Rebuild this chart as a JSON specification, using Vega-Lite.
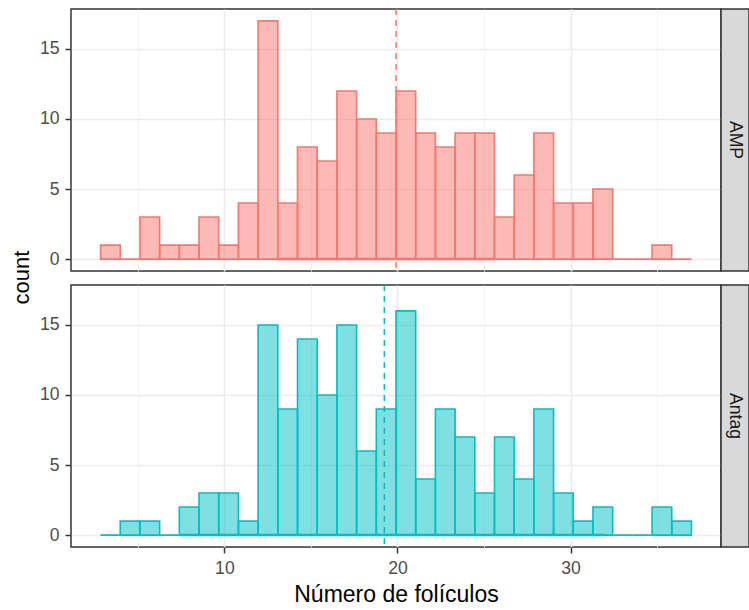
{
  "$schema": "https://vega.github.io/schema/vega-lite/v6.json",
  "background": "white",
  "padding": {"left": 9, "top": 7, "right": 0, "bottom": 0},
  "config": {
    "font": "Liberation Sans",
    "view": {"stroke": "#333333", "strokeWidth": 1.5},
    "axis": {
      "labelFont": "Liberation Sans",
      "labelFontSize": 17.6,
      "labelColor": "#4D4D4D",
      "tickColor": "#333333",
      "tickSize": 6,
      "tickWidth": 1.5,
      "domain": false,
      "titleFont": "Liberation Sans",
      "titleFontSize": 22,
      "titleFontWeight": "normal",
      "titleColor": "#000000"
    }
  },
  "datasets": {
    "bins": [
      {"grupo": "AMP", "x0": 2.845, "x1": 3.983, "n": 1},
      {"grupo": "AMP", "x0": 3.983, "x1": 5.121, "n": 0},
      {"grupo": "AMP", "x0": 5.121, "x1": 6.259, "n": 3},
      {"grupo": "AMP", "x0": 6.259, "x1": 7.397, "n": 1},
      {"grupo": "AMP", "x0": 7.397, "x1": 8.534, "n": 1},
      {"grupo": "AMP", "x0": 8.534, "x1": 9.672, "n": 3},
      {"grupo": "AMP", "x0": 9.672, "x1": 10.810, "n": 1},
      {"grupo": "AMP", "x0": 10.810, "x1": 11.948, "n": 4},
      {"grupo": "AMP", "x0": 11.948, "x1": 13.086, "n": 17},
      {"grupo": "AMP", "x0": 13.086, "x1": 14.224, "n": 4},
      {"grupo": "AMP", "x0": 14.224, "x1": 15.362, "n": 8},
      {"grupo": "AMP", "x0": 15.362, "x1": 16.500, "n": 7},
      {"grupo": "AMP", "x0": 16.500, "x1": 17.638, "n": 12},
      {"grupo": "AMP", "x0": 17.638, "x1": 18.776, "n": 10},
      {"grupo": "AMP", "x0": 18.776, "x1": 19.914, "n": 9},
      {"grupo": "AMP", "x0": 19.914, "x1": 21.052, "n": 12},
      {"grupo": "AMP", "x0": 21.052, "x1": 22.190, "n": 9},
      {"grupo": "AMP", "x0": 22.190, "x1": 23.328, "n": 8},
      {"grupo": "AMP", "x0": 23.328, "x1": 24.466, "n": 9},
      {"grupo": "AMP", "x0": 24.466, "x1": 25.603, "n": 9},
      {"grupo": "AMP", "x0": 25.603, "x1": 26.741, "n": 3},
      {"grupo": "AMP", "x0": 26.741, "x1": 27.879, "n": 6},
      {"grupo": "AMP", "x0": 27.879, "x1": 29.017, "n": 9},
      {"grupo": "AMP", "x0": 29.017, "x1": 30.155, "n": 4},
      {"grupo": "AMP", "x0": 30.155, "x1": 31.293, "n": 4},
      {"grupo": "AMP", "x0": 31.293, "x1": 32.431, "n": 5},
      {"grupo": "AMP", "x0": 32.431, "x1": 33.569, "n": 0},
      {"grupo": "AMP", "x0": 33.569, "x1": 34.707, "n": 0},
      {"grupo": "AMP", "x0": 34.707, "x1": 35.845, "n": 1},
      {"grupo": "AMP", "x0": 35.845, "x1": 36.983, "n": 0},
      {"grupo": "Antag", "x0": 2.845, "x1": 3.983, "n": 0},
      {"grupo": "Antag", "x0": 3.983, "x1": 5.121, "n": 1},
      {"grupo": "Antag", "x0": 5.121, "x1": 6.259, "n": 1},
      {"grupo": "Antag", "x0": 6.259, "x1": 7.397, "n": 0},
      {"grupo": "Antag", "x0": 7.397, "x1": 8.534, "n": 2},
      {"grupo": "Antag", "x0": 8.534, "x1": 9.672, "n": 3},
      {"grupo": "Antag", "x0": 9.672, "x1": 10.810, "n": 3},
      {"grupo": "Antag", "x0": 10.810, "x1": 11.948, "n": 1},
      {"grupo": "Antag", "x0": 11.948, "x1": 13.086, "n": 15},
      {"grupo": "Antag", "x0": 13.086, "x1": 14.224, "n": 9},
      {"grupo": "Antag", "x0": 14.224, "x1": 15.362, "n": 14},
      {"grupo": "Antag", "x0": 15.362, "x1": 16.500, "n": 10},
      {"grupo": "Antag", "x0": 16.500, "x1": 17.638, "n": 15},
      {"grupo": "Antag", "x0": 17.638, "x1": 18.776, "n": 6},
      {"grupo": "Antag", "x0": 18.776, "x1": 19.914, "n": 9},
      {"grupo": "Antag", "x0": 19.914, "x1": 21.052, "n": 16},
      {"grupo": "Antag", "x0": 21.052, "x1": 22.190, "n": 4},
      {"grupo": "Antag", "x0": 22.190, "x1": 23.328, "n": 9},
      {"grupo": "Antag", "x0": 23.328, "x1": 24.466, "n": 7},
      {"grupo": "Antag", "x0": 24.466, "x1": 25.603, "n": 3},
      {"grupo": "Antag", "x0": 25.603, "x1": 26.741, "n": 7},
      {"grupo": "Antag", "x0": 26.741, "x1": 27.879, "n": 4},
      {"grupo": "Antag", "x0": 27.879, "x1": 29.017, "n": 9},
      {"grupo": "Antag", "x0": 29.017, "x1": 30.155, "n": 3},
      {"grupo": "Antag", "x0": 30.155, "x1": 31.293, "n": 1},
      {"grupo": "Antag", "x0": 31.293, "x1": 32.431, "n": 2},
      {"grupo": "Antag", "x0": 32.431, "x1": 33.569, "n": 0},
      {"grupo": "Antag", "x0": 33.569, "x1": 34.707, "n": 0},
      {"grupo": "Antag", "x0": 34.707, "x1": 35.845, "n": 2},
      {"grupo": "Antag", "x0": 35.845, "x1": 36.983, "n": 1}
    ],
    "base": [
      {"grupo": "AMP", "desde": 13.086, "hasta": 25.603},
      {"grupo": "Antag", "desde": 7.397, "hasta": 31.97}
    ],
    "medias": [
      {"grupo": "AMP", "media": 19.92},
      {"grupo": "Antag", "media": 19.24}
    ]
  },
  "columns": 2,
  "spacing": {"row": 14, "column": 0},
  "bounds": "flush",
  "concat": [
    {
      "width": 650,
      "height": 262,
      "layer": [
        {
          "data": {"name": "bins"},
          "transform": [{"filter": "datum.grupo === 'AMP'"}],
          "mark": {"type": "rect", "fill": "#F8766D", "fillOpacity": 0.5, "stroke": "#F8766D", "strokeWidth": 1.6},
          "encoding": {
            "x": {
              "field": "x0", "type": "quantitative",
              "scale": {"domain": [1.138, 38.69], "nice": false, "zero": false},
              "axis": {
                "values": [5, 10, 15, 20, 25, 30, 35],
                "labels": false, "ticks": false, "title": null,
                "gridColor": {"condition": {"test": "datum.value % 10 !== 0", "value": "#F2F2F2"}, "value": "#EBEBEB"},
                "gridWidth": {"condition": {"test": "datum.value % 10 !== 0", "value": 0.9}, "value": 1.6}
              }
            },
            "x2": {"field": "x1"},
            "y": {
              "field": "n", "type": "quantitative",
              "scale": {"domain": [-0.85, 17.85], "nice": false, "zero": false},
              "axis": {
                "values": [0, 2.5, 5, 7.5, 10, 12.5, 15, 17.5],
                "labelExpr": "datum.value % 5 === 0 ? '' + datum.value : ''",
                "labelPadding": 6,
                "tickOpacity": {"condition": {"test": "datum.value % 5 !== 0", "value": 0}, "value": 1},
                "gridColor": {"condition": {"test": "datum.value % 5 !== 0", "value": "#F2F2F2"}, "value": "#EBEBEB"},
                "gridWidth": {"condition": {"test": "datum.value % 5 !== 0", "value": 0.9}, "value": 1.6},
                "title": "count",
                "titleAngle": 270,
                "titleAlign": "center",
                "titleBaseline": "alphabetic",
                "titleX": -43,
                "titleY": 268
              }
            },
            "y2": {"datum": 0}
          }
        },
        {
          "data": {"name": "base"},
          "transform": [{"filter": "datum.grupo === 'AMP'"}],
          "mark": {"type": "rule", "color": "#F8766D", "strokeWidth": 2.5},
          "encoding": {
            "x": {"field": "desde", "type": "quantitative", "title": null},
            "x2": {"field": "hasta"},
            "y": {"datum": 0, "type": "quantitative", "title": "count"}
          }
        },
        {
          "data": {"name": "medias"},
          "transform": [{"filter": "datum.grupo === 'AMP'"}],
          "mark": {"type": "rule", "color": "#F8766D", "strokeWidth": 1.5, "strokeDash": [6, 5]},
          "encoding": {
            "x": {"field": "media", "type": "quantitative", "title": null}
          }
        }
      ]
    },
    {
      "width": 28,
      "height": 262,
      "view": {"fill": "#D9D9D9", "stroke": "#333333", "strokeWidth": 1.5},
      "data": {"values": [{"grupo": "AMP"}]},
      "mark": {"type": "text", "angle": 90, "fontSize": 17.6, "color": "#1A1A1A", "font": "Liberation Sans"},
      "encoding": {"text": {"field": "grupo"}}
    },
    {
      "width": 650,
      "height": 262,
      "layer": [
        {
          "data": {"name": "bins"},
          "transform": [{"filter": "datum.grupo === 'Antag'"}],
          "mark": {"type": "rect", "fill": "#00BFC4", "fillOpacity": 0.5, "stroke": "#00BFC4", "strokeWidth": 1.6},
          "encoding": {
            "x": {
              "field": "x0", "type": "quantitative",
              "scale": {"domain": [1.138, 38.69], "nice": false, "zero": false},
              "axis": {
                "values": [5, 10, 15, 20, 25, 30, 35],
                "labelExpr": "datum.value % 10 === 0 ? '' + datum.value : ''",
                "labelPadding": 6,
                "labelFlush": false,
                "tickOpacity": {"condition": {"test": "datum.value % 10 !== 0", "value": 0}, "value": 1},
                "gridColor": {"condition": {"test": "datum.value % 10 !== 0", "value": "#F2F2F2"}, "value": "#EBEBEB"},
                "gridWidth": {"condition": {"test": "datum.value % 10 !== 0", "value": 0.9}, "value": 1.6},
                "title": "Número de folículos",
                "titleFontSize": 23,
                "titleBaseline": "alphabetic",
                "titleY": 54
              }
            },
            "x2": {"field": "x1"},
            "y": {
              "field": "n", "type": "quantitative",
              "scale": {"domain": [-0.85, 17.85], "nice": false, "zero": false},
              "axis": {
                "values": [0, 2.5, 5, 7.5, 10, 12.5, 15, 17.5],
                "labelExpr": "datum.value % 5 === 0 ? '' + datum.value : ''",
                "labelPadding": 6,
                "tickOpacity": {"condition": {"test": "datum.value % 5 !== 0", "value": 0}, "value": 1},
                "gridColor": {"condition": {"test": "datum.value % 5 !== 0", "value": "#F2F2F2"}, "value": "#EBEBEB"},
                "gridWidth": {"condition": {"test": "datum.value % 5 !== 0", "value": 0.9}, "value": 1.6},
                "title": null
              }
            },
            "y2": {"datum": 0}
          }
        },
        {
          "data": {"name": "base"},
          "transform": [{"filter": "datum.grupo === 'Antag'"}],
          "mark": {"type": "rule", "color": "#00BFC4", "strokeWidth": 2.5},
          "encoding": {
            "x": {"field": "desde", "type": "quantitative", "title": "Número de folículos"},
            "x2": {"field": "hasta"},
            "y": {"datum": 0, "type": "quantitative", "title": null}
          }
        },
        {
          "data": {"name": "medias"},
          "transform": [{"filter": "datum.grupo === 'Antag'"}],
          "mark": {"type": "rule", "color": "#00BFC4", "strokeWidth": 1.5, "strokeDash": [6, 5]},
          "encoding": {
            "x": {"field": "media", "type": "quantitative", "title": "Número de folículos"}
          }
        }
      ]
    },
    {
      "width": 28,
      "height": 262,
      "view": {"fill": "#D9D9D9", "stroke": "#333333", "strokeWidth": 1.5},
      "data": {"values": [{"grupo": "Antag"}]},
      "mark": {"type": "text", "angle": 90, "fontSize": 17.6, "color": "#1A1A1A", "font": "Liberation Sans"},
      "encoding": {"text": {"field": "grupo"}}
    }
  ]
}
